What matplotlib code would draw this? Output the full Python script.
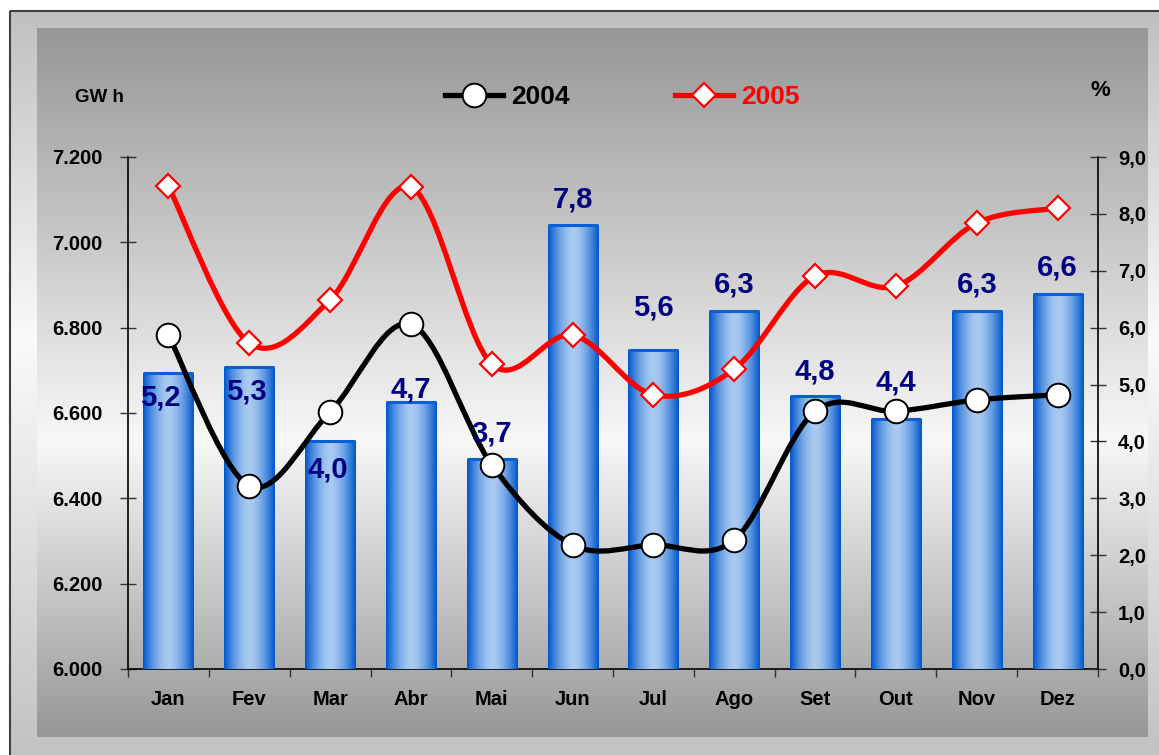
#!/usr/bin/env python3
"""
Consumo mensal: barras (variação %) e linhas 2004 / 2005, eixos GWh e %.
"""

import numpy as np
import matplotlib
matplotlib.use("Agg")
import matplotlib.pyplot as plt
from matplotlib.path import Path
from matplotlib.patches import PathPatch, Rectangle
from matplotlib.lines import Line2D

# -------------------------------------------------------------------
# Dados
# -------------------------------------------------------------------
MONTHS = ["Jan", "Fev", "Mar", "Abr", "Mai", "Jun",
          "Jul", "Ago", "Set", "Out", "Nov", "Dez"]
BAR_PCT = [5.2, 5.3, 4.0, 4.7, 3.7, 7.8, 5.6, 6.3, 4.8, 4.4, 6.3, 6.6]
SERIES_2004 = [5.87, 3.22, 4.52, 6.06, 3.59, 2.18, 2.18, 2.27, 4.53, 4.53, 4.73, 4.82]
SERIES_2005 = [8.49, 5.73, 6.49, 8.47, 5.36, 5.87, 4.82, 5.27, 6.91, 6.73, 7.84, 8.10]
GWH_TICKS = [6000, 6200, 6400, 6600, 6800, 7000, 7200]
PCT_TICKS = [0, 1, 2, 3, 4, 5, 6, 7, 8, 9]

# posição dos rótulos das barras (px relativos ao topo da barra)
LABEL_OFFSETS = [(-8, -24), (-3, -24), (-2, -28), (0, 12), (0, 25), (0, 26),
                 (0, 43), (0, 26), (0, 24), (0, 36), (0, 26), (0, 26)]

# -------------------------------------------------------------------
# Estilo
# -------------------------------------------------------------------
W, H = 1159, 755
DPI = 100
plt.rcParams["font.family"] = ["Liberation Sans", "DejaVu Sans"]
plt.rcParams["font.weight"] = "bold"

BAR_DARK = np.array([0x00, 0x58, 0xcc]) / 255
BAR_LIGHT = np.array([0xaa, 0xcb, 0xf1]) / 255
TICK_SIZE = 14.5


def fmt_thousands(v):
    return f"{int(v):,}".replace(",", ".")


def smooth_path(xs, ys):
    """Curva suavizada tipo Excel (Bezier Catmull-Rom)."""
    pts = np.column_stack([xs, ys]).astype(float)
    n = len(pts)
    verts = [pts[0]]
    codes = [Path.MOVETO]
    for i in range(n - 1):
        p0 = pts[i - 1] if i > 0 else pts[i]
        p1 = pts[i]
        p2 = pts[i + 1]
        p3 = pts[i + 2] if i + 2 < n else pts[i + 1]
        c1 = p1 + (p2 - p0) / 6.0
        c2 = p2 - (p3 - p1) / 6.0
        verts += [c1, c2, p2]
        codes += [Path.CURVE4] * 3
    return Path(verts, codes)


def vgrad(y, stops):
    ys, vs = zip(*stops)
    return np.interp(y, ys, vs)


fig = plt.figure(figsize=(W / DPI, H / DPI), dpi=DPI)

# -------------------------------------------------------------------
# Fundo (moldura + painel interior com gradiente)
# -------------------------------------------------------------------
bg = fig.add_axes([0, 0, 1, 1], zorder=-5)
bg.set_xlim(0, W)
bg.set_ylim(H, 0)
bg.axis("off")
yy = np.arange(H)
outer = vgrad(yy, [(10, 0.75), (340, 0.98), (755, 0.76)])
inner = vgrad(yy, [(28, 0.59), (440, 0.97), (737, 0.59)])
img = np.ones((H, W))
img[10:, 9:] = outer[10:, None]
img[28:737, 37:1148] = inner[28:737, None]
bg.imshow(np.dstack([img] * 3), extent=(0, W, H, 0), aspect="auto",
          interpolation="bilinear")
bg.add_patch(Rectangle((9.5, 10.5), W, H, fill=False, lw=1.5,
                       edgecolor="#404040"))

# -------------------------------------------------------------------
# Eixos
# -------------------------------------------------------------------
left, right = 128 / W, 1098 / W
bottom, top = 1 - 669 / H, 1 - 157 / H
ax = fig.add_axes([left, bottom, right - left, top - bottom])
ax.set_facecolor("none")
ax2 = ax.twinx()
ax2.set_facecolor("none")

x = np.arange(len(MONTHS))
ax.set_xlim(-0.5, len(MONTHS) - 0.5)
ax.set_ylim(GWH_TICKS[0], GWH_TICKS[-1])
ax2.set_ylim(PCT_TICKS[0], PCT_TICKS[-1])

for a in (ax, ax2):
    for s in a.spines.values():
        s.set_visible(False)
ax.spines["left"].set_visible(True)
ax.spines["bottom"].set_visible(True)
ax2.spines["right"].set_visible(True)
for s in (ax.spines["left"], ax.spines["bottom"], ax2.spines["right"]):
    s.set_linewidth(1.2)
    s.set_color("black")

ax.set_yticks(GWH_TICKS)
ax.set_yticklabels([fmt_thousands(v) for v in GWH_TICKS])
ax.tick_params(axis="y", direction="inout", length=11, width=1.0,
               color="#303030", labelsize=TICK_SIZE, pad=13)
ax2.set_yticks(PCT_TICKS)
ax2.set_yticklabels([f"{v:.1f}".replace(".", ",") for v in PCT_TICKS])
ax2.tick_params(axis="y", direction="inout", length=11, width=1.0,
                color="#303030", labelsize=TICK_SIZE, pad=9)

ax.set_xticks(x)
ax.set_xticklabels(MONTHS)
ax.set_xticks(np.arange(-0.5, len(MONTHS), 1.0), minor=True)
ax.tick_params(axis="x", which="major", length=0, labelsize=TICK_SIZE, pad=15)
ax.tick_params(axis="x", which="minor", direction="out", length=6,
               width=1.0, color="#303030")

# -------------------------------------------------------------------
# Barras com gradiente horizontal
# -------------------------------------------------------------------
u = np.linspace(0, 1, 64)
t = np.abs(2 * u - 1) ** 1.6
grad = BAR_LIGHT[None, :] + (BAR_DARK - BAR_LIGHT)[None, :] * t[:, None]
grad = grad[None, :, :]

bars = ax2.bar(x, BAR_PCT, width=0.62, facecolor="none",
               edgecolor="none", zorder=2)
for b in bars:
    x0, y0 = b.get_x(), b.get_y()
    x1, y1 = x0 + b.get_width(), y0 + b.get_height()
    im = ax2.imshow(grad, extent=(x0, x1, y0, y1),
                    aspect="auto", zorder=1.9, interpolation="bilinear")
    im.set_clip_path(b)
    ax2.plot([x0, x1], [y1, y1], color="#0a5fd4", lw=2.2,
             solid_capstyle="butt", zorder=2.1)

for xi, v, (dx, dy) in zip(x, BAR_PCT, LABEL_OFFSETS):
    ax2.annotate(f"{v:.1f}".replace(".", ","), (xi, v),
                 xytext=(dx * 0.72, dy * 0.72), textcoords="offset points",
                 ha="center", va="center", fontsize=21, fontweight="bold",
                 color="#000080", zorder=5)

# -------------------------------------------------------------------
# Linhas suavizadas
# -------------------------------------------------------------------
ax2.add_patch(PathPatch(smooth_path(x, SERIES_2005), fill=False,
                        edgecolor="#ff0000", lw=3.8, zorder=3,
                        capstyle="round", joinstyle="round"))
ax2.plot(x, SERIES_2005, ls="none", marker="D", ms=12, mfc="white",
         mec="#ff0000", mew=1.6, zorder=4)
ax2.add_patch(PathPatch(smooth_path(x, SERIES_2004), fill=False,
                        edgecolor="black", lw=3.8, zorder=3,
                        capstyle="round", joinstyle="round"))
ax2.plot(x, SERIES_2004, ls="none", marker="o", ms=17, mfc="white",
         mec="black", mew=1.4, zorder=4)
ax2.set_xlim(-0.5, len(MONTHS) - 0.5)

# -------------------------------------------------------------------
# Legenda e unidades
# -------------------------------------------------------------------
handles = [
    Line2D([], [], color="black", lw=3.8, marker="o", ms=17, mfc="white",
           mec="black", mew=1.4),
    Line2D([], [], color="#ff0000", lw=3.8, marker="D", ms=12, mfc="white",
           mec="#ff0000", mew=1.6),
]
fig.legend(handles, ["2004", "2005"], loc="center",
           bbox_to_anchor=(622 / W, 1 - 97 / H), ncol=2, frameon=False,
           prop={"size": 19, "weight": "bold"}, labelcolor="linecolor",
           handlelength=2.2, handletextpad=0.3, columnspacing=4.0)

fig.text(99 / W, 1 - 98 / H, "GW h", ha="center", va="center",
         fontsize=13.5, fontweight="bold")
fig.text(1100 / W, 1 - 90 / H, "%", ha="center", va="center",
         fontsize=16, fontweight="bold")

fig.savefig("out.png", dpi=DPI)
plt.close(fig)
